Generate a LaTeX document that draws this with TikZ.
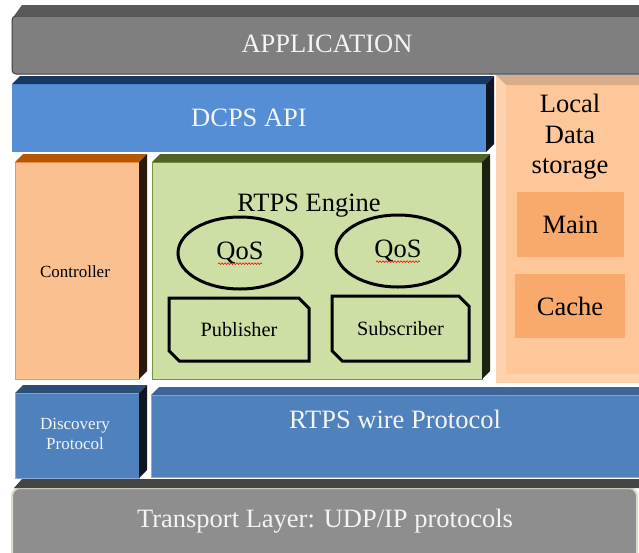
\documentclass[tikz,border=0pt]{standalone}
\usepackage{fontspec}
\setmainfont{Liberation Serif}
\usetikzlibrary{shapes.misc,shapes.geometric,decorations.pathmorphing}

\definecolor{appface}{HTML}{7F7F7F}
\definecolor{apptop}{HTML}{595959}
\definecolor{appedge}{HTML}{3F3F3F}
\definecolor{dcpsface}{HTML}{558ED5}
\definecolor{dcpstop}{HTML}{17375E}
\definecolor{dcpsside}{HTML}{0F1620}
\definecolor{storeface}{HTML}{FDC79A}
\definecolor{storetop}{HTML}{D8AD8C}
\definecolor{storelight}{HTML}{FDD2AC}
\definecolor{storecell}{HTML}{F8A96C}
\definecolor{ctrlface}{HTML}{FAC090}
\definecolor{ctrltop}{HTML}{B65708}
\definecolor{ctrlside}{HTML}{2A1A0D}
\definecolor{ctrledge}{HTML}{F79646}
\definecolor{engineface}{HTML}{CDDFA5}
\definecolor{enginetop}{HTML}{4F6228}
\definecolor{engineside}{HTML}{1C2210}
\definecolor{engineedge}{HTML}{77933C}
\definecolor{discface}{HTML}{4F81BD}
\definecolor{disctop}{HTML}{2C4D75}
\definecolor{discside}{HTML}{10161F}
\definecolor{discedge}{HTML}{8EAADB}
\definecolor{wiretop}{HTML}{3E6599}
\definecolor{transface}{HTML}{8E8E8E}
\definecolor{transtop}{HTML}{454545}
\definecolor{transedge}{HTML}{DDD9C3}
\definecolor{labelwhite}{HTML}{F4F4F4}

\begin{document}
\begin{tikzpicture}[
  x=1pt, y=-1pt,
  blockface/.style={anchor=north west, inner sep=0pt, outer sep=0pt, line width=1pt},
  bigtext/.style={font=\fontsize{26.5}{30.5}\selectfont},
  smalltext/.style={font=\fontsize{17}{20}\selectfont, align=center},
  lighttext/.style={bigtext, text=labelwhite},
  qosbubble/.style={ellipse, draw=black, line width=3pt, minimum width=124pt, minimum height=72pt, inner sep=0pt, bigtext},
  endpoint/.style={chamfered rectangle, chamfered rectangle corners={north east,south west},
    chamfered rectangle angle=45, chamfered rectangle xsep=9pt, draw=black, line width=3pt,
    inner sep=0pt, font=\fontsize{20.3}{23}\selectfont},
  storecellbox/.style={fill=storecell, inner sep=0pt, bigtext},
  spellmark/.style={draw=red, line width=0.6pt, decorate, decoration={snake, amplitude=0.8pt, segment length=3pt}}
]
  \useasboundingbox (0,0) rectangle (639,552);
  \fill[white] (0,0) rectangle (639,552);
  \clip (0,0) rectangle (639,552);

  % application layer
  \node[blockface, fill=appface, draw=appedge, rounded corners=4pt, minimum width=640pt, minimum height=58pt] (app) at (12,16) {};
  \fill[apptop] ([xshift=2pt]app.north west) -- ++(8,-11) -- ([shift={(8pt,11pt)}]app.north east) -- (app.north east) -- cycle;
  \node[lighttext] (applbl) at (327,44) {APPLICATION};

  % middle layers
  \node[blockface, fill=dcpsface, minimum width=474pt, minimum height=68pt] (dcps) at (12,84) {};
  \node[blockface, fill=ctrlface, draw=ctrledge, minimum width=124pt, minimum height=217pt] (ctrl) at (15,162) {};
  \node[blockface, fill=engineface, draw=engineedge, minimum width=330pt, minimum height=217pt] (engine) at (152,162) {};
  \node[blockface, fill=discface, draw=discedge, minimum width=124pt, minimum height=85pt] (disc) at (15,393) {};
  \node[blockface, fill=discface, draw=discedge, minimum width=500pt, minimum height=82pt] (wire) at (151,395) {};

  \foreach \blk/\topc/\sidec in {dcps/dcpstop/dcpsside, ctrl/ctrltop/ctrlside, engine/enginetop/engineside,
                                 disc/disctop/discside, wire/wiretop/discside}
  {
    \fill[\topc] (\blk.north west) -- ++(8,-8) -- ([shift={(8pt,8pt)}]\blk.north east) -- (\blk.north east) -- cycle;
    \fill[\sidec] (\blk.north east) -- ([shift={(8pt,8pt)}]\blk.north east)
      -- ([shift={(8pt,8pt)}]\blk.south east) -- (\blk.south east) -- cycle;
  }

  % local data storage
  \node[blockface, fill=storeface, minimum width=160pt, minimum height=308pt] (store) at (496,75) {};
  \fill[storelight] (store.north west) -- ([shift={(10pt,-10pt)}]store.north west)
    -- ([shift={(10pt,9pt)}]store.south west) -- (store.south west) -- cycle;
  \fill[storelight] (store.south west) -- ([shift={(10pt,9pt)}]store.south west)
    -- ([yshift=9pt]store.south east) -- (store.south east) -- cycle;
  \fill[storetop] (store.north west) -- (store.north east) -- ([yshift=-10pt]store.north east)
    -- ([shift={(10pt,-10pt)}]store.north west) -- cycle;
  \node[bigtext, align=center] (storelbl) at (570,137) {Local\\Data\\storage};
  \node[storecellbox, minimum width=107pt, minimum height=65pt] (main) at (570.5,224.5) {Main};
  \node[storecellbox, minimum width=110pt, minimum height=64pt] (cache) at (570,306) {Cache};

  % transport layer
  \node[blockface, fill=transface, draw=transedge, line width=2pt, rounded corners=8pt, minimum width=625pt, minimum height=80pt] (trans) at (12,488) {};
  \fill[transtop] ([xshift=2pt]trans.north west) -- ++(8,-9) -- ([shift={(20pt,9pt)}]trans.north east) -- ([xshift=20pt]trans.north east) -- cycle;
  \node[lighttext] (translbl) at (325,521) {Transport Layer: UDP/IP protocols};

  % labels of the layers
  \node[lighttext] (dcpslbl) at (249,118) {DCPS API};
  \node[smalltext] (ctrllbl) at (75,272) {Controller};
  \node[bigtext] (enginelbl) at (309,206) {RTPS Engine};
  \node[smalltext, text=labelwhite] (disclbl) at (75,434) {Discovery\\Protocol};
  \node[lighttext] (wirelbl) at (395,419) {RTPS wire Protocol};

  % inside the engine
  \node[qosbubble] (qosA) at (240,253) {QoS};
  \node[qosbubble] (qosB) at (398,251) {QoS};
  \draw[spellmark] ([shift={(-22pt,-4pt)}]qosA.base) -- ([shift={(22pt,-4pt)}]qosA.base);
  \draw[spellmark] ([shift={(-22pt,-4pt)}]qosB.base) -- ([shift={(22pt,-4pt)}]qosB.base);
  \node[endpoint, minimum width=140pt, minimum height=63pt] (pub) at (239,329.5) {Publisher};
  \node[endpoint, minimum width=137pt, minimum height=65pt] (sub) at (400.5,328.5) {Subscriber};
\end{tikzpicture}
\end{document}
